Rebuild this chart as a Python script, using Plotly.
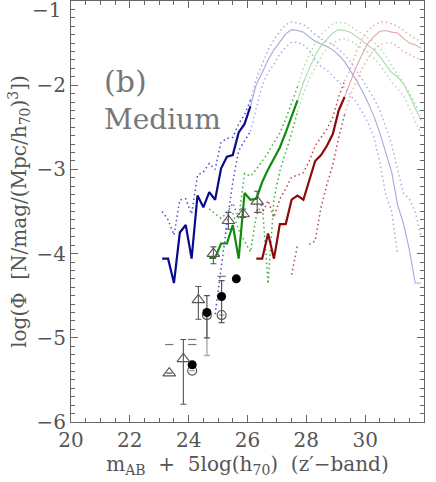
import plotly.graph_objects as go

# magnitude grid shared by the model curves
mag = [23.1, 23.3, 23.5, 23.7, 23.9, 24.1, 24.3, 24.5, 24.7, 24.9,
       25.1, 25.3, 25.5, 25.7, 25.9, 26.1, 26.3, 26.5, 26.7, 26.9,
       27.1, 27.3, 27.5, 27.7, 27.9, 28.1, 28.3, 28.5, 28.7, 28.9,
       29.1, 29.3, 29.5, 29.7, 29.9, 30.1, 30.3, 30.5, 30.7, 30.9,
       31.1, 31.3, 31.5, 31.7, 31.9]
N = None

blue_mid = [-4.06, -4.06, -4.35, -3.75, -3.66, -4.06, -3.31, -3.45, -3.27, -3.36,
            -2.99, -2.85, -2.83, -2.56, -2.46, -2.25, -1.99, -1.85, -1.70, -1.58,
            -1.48, -1.39, -1.34, -1.35, -1.37, -1.42, -1.48, -1.51, -1.54, -1.58,
            -1.64, -1.72, -1.83, -1.94, -2.07, -2.21, -2.37, -2.57, -2.80, -3.03,
            -3.42, -3.64, -3.95, -4.35, -4.35]
blue_hi = [-3.50, -3.60, -3.78, -3.36, -3.35, -3.53, -3.07, -3.03, -2.93, -3.00,
           -2.68, -2.63, -2.62, -2.46, -2.35, -2.18, -1.92, -1.75, -1.58, -1.46,
           -1.36, -1.28, -1.25, -1.26, -1.28, -1.33, -1.40, -1.45, -1.48, -1.52,
           -1.57, -1.64, -1.72, -1.82, -1.93, -2.05, -2.16, -2.30, -2.50, -2.70,
           -3.00, -3.28, -3.35, -3.50, -3.80]
blue_lo = [N, N, N, N, N, N, N, N, N, -4.72,
           -4.15, -3.65, -3.15, -2.78, -2.66, -2.55, -2.27, -2.00, -1.85, -1.75,
           -1.63, -1.55, -1.49, -1.49, -1.52, -1.58, -1.70, -1.78, -1.82, -1.89,
           -1.95, -2.03, -2.12, -2.20, -2.32, -2.45, -2.62, -2.92, -3.30, -3.50,
           -4.00, N, N, N, N]

green_mid = [N, N, N, N, N, N, N, N, -4.05, -4.05,
             -3.88, -3.88, -3.66, -4.06, -3.28, -3.36, -3.35, -3.15, -3.00, -2.87,
             -2.74, -2.56, -2.37, -2.18, -1.97, -1.80, -1.65, -1.53, -1.46, -1.38,
             -1.34, -1.35, -1.37, -1.42, -1.48, -1.52, -1.58, -1.66, -1.75, -1.85,
             -1.90, -1.98, -2.12, -2.26, -2.42]
green_hi = [N, N, N, N, N, N, N, N, -3.47, -3.52,
            -3.58, -3.52, -3.40, -3.58, -3.05, -3.08, -3.00, -2.90, -2.80, -2.68,
            -2.57, -2.40, -2.20, -2.02, -1.80, -1.64, -1.50, -1.40, -1.33, -1.27,
            -1.25, -1.26, -1.30, -1.35, -1.40, -1.44, -1.49, -1.56, -1.65, -1.77,
            -1.87, -1.97, -2.09, -2.22, -2.35]
green_lo = [N, N, N, N, N, N, N, N, N, N,
            N, N, -3.52, -3.72, -3.85, -3.98, -3.55, -3.40, -4.36, -3.35,
            -3.02, -2.80, -2.57, -2.32, -2.10, -1.92, -1.78, -1.66, -1.57, -1.50,
            -1.46, -1.45, -1.47, -1.52, -1.57, -1.61, -1.68, -1.76, -1.86, -1.96,
            -2.04, -2.12, -2.27, -2.42, -2.58]

red_mid = [N, N, N, N, N, N, N, N, N, N,
           N, N, N, N, N, N, -4.06, -4.06, -3.76, -4.06,
           -3.65, -3.65, -3.36, -3.31, -3.36, -3.13, -2.90, -2.83, -2.72, -2.58,
           -2.30, -2.14, -1.95, -1.78, -1.63, -1.50, -1.42, -1.36, -1.35, -1.37,
           -1.38, -1.44, -1.50, -1.52, -1.56]
red_hi = [N, N, N, N, N, N, N, N, N, N,
          N, N, N, N, N, N, -3.48, -3.52, -3.37, -3.57,
          -3.35, -3.23, -3.09, -3.07, -3.04, -2.90, -2.72, -2.62, -2.52, -2.38,
          -2.14, -1.95, -1.80, -1.60, -1.45, -1.35, -1.29, -1.25, -1.25, -1.27,
          -1.30, -1.35, -1.40, -1.45, -1.48]
red_lo = [N, N, N, N, N, N, N, N, N, N,
          N, N, N, N, N, N, N, N, N, N,
          N, N, -4.25, -3.90, N, -3.89, -3.85, -3.45, -3.18, -2.95,
          -2.62, -2.35, -2.12, -1.95, -1.80, -1.68, -1.58, -1.52, -1.50, -1.50,
          -1.54, -1.60, -1.64, -1.67, -1.70]

# observed points
tri_x = [23.34, 23.82, 24.33, 24.84, 25.35, 25.85, 26.33]
tri_y = [-5.42, -5.25, -4.55, -4.00, -3.61, -3.53, -3.38]
tri_up = [0.0, 0.23, 0.16, 0.08, 0.10, 0.06, 0.12]
tri_dn = [0.0, 0.54, 0.23, 0.12, 0.10, 0.04, 0.13]

fill_x = [24.12, 24.62, 25.12, 25.62]
fill_y = [-5.32, -4.70, -4.51, -4.30]
fill_up = [0.0, 0.20, 0.19, 0.0]
fill_dn = [0.0, 0.30, 0.31, 0.0]

open_x = [24.12, 24.62, 25.12]
open_y = [-5.39, -4.73, -4.73]
open_up = [0.0, 0.0, 0.0]
open_dn = [0.0, 0.48, 0.0]

dash_x = [23.34, 24.12, 24.12, 25.12]
dash_y = [-5.08, -5.02, -5.08, -4.27]

# where the measured part of each curve ends
cut = {"blue": 26.1, "green": 27.7, "red": 29.3}
colors = {
    "blue": ("#0a0a8c", "#a6a6e0", "#4a4ad0", "#a8a8e4"),
    "green": ("#0e8c0e", "#a8dca8", "#3caa3c", "#a8dca8"),
    "red": ("#8c0a0a", "#e0a8a8", "#b84848", "#e2a8a8"),
}
curves = {
    "blue": (blue_mid, blue_hi, blue_lo),
    "green": (green_mid, green_hi, green_lo),
    "red": (red_mid, red_hi, red_lo),
}
DOT = "1.5px,3px"


def split(ys, c):
    a = [y if x <= c + 1e-6 else None for x, y in zip(mag, ys)]
    b = [y if x >= c - 1e-6 else None for x, y in zip(mag, ys)]
    return a, b


fig = go.Figure()

for name, (mid, hi, lo) in curves.items():
    dark, light, ddot, ldot = colors[name]
    c = cut[name]
    for band in (hi, lo):
        a, b = split(band, c)
        fig.add_trace(go.Scatter(x=mag, y=b, mode="lines",
                                 line=dict(color=ldot, width=1.4, dash=DOT)))
        fig.add_trace(go.Scatter(x=mag, y=a, mode="lines",
                                 line=dict(color=ddot, width=1.5, dash=DOT)))
    a, b = split(mid, c)
    fig.add_trace(go.Scatter(x=mag, y=b, mode="lines",
                             line=dict(color=light, width=1.1)))
    fig.add_trace(go.Scatter(x=mag, y=a, mode="lines",
                             line=dict(color=dark, width=2.2)))

fig.add_trace(go.Scatter(
    x=open_x, y=open_y, mode="markers",
    marker=dict(symbol="circle-open", size=9, color="#555",
                line=dict(width=1.1, color="#555")),
    error_y=dict(type="data", symmetric=False, array=open_up,
                 arrayminus=open_dn, color="#aaaaaa", thickness=1.4, width=3)))
fig.add_trace(go.Scatter(
    x=fill_x, y=fill_y, mode="markers",
    marker=dict(symbol="circle", size=9, color="black"),
    error_y=dict(type="data", symmetric=False, array=fill_up,
                 arrayminus=fill_dn, color="#555", thickness=1.2, width=3)))
fig.add_trace(go.Scatter(
    x=tri_x, y=tri_y, mode="markers",
    marker=dict(symbol="triangle-up-open", size=11, color="#555",
                line=dict(width=1.1, color="#555")),
    error_y=dict(type="data", symmetric=False, array=tri_up,
                 arrayminus=tri_dn, color="#555", thickness=1.1, width=3)))
fig.add_trace(go.Scatter(
    x=dash_x, y=dash_y, mode="markers",
    marker=dict(symbol="line-ew", size=6, line=dict(width=1.2, color="#777"))))

tickfont = dict(family="DejaVu Serif", size=20, color="#555")
axis = dict(showline=True, linecolor="#666", linewidth=1, mirror="allticks",
            ticks="inside", ticklen=7, tickcolor="#666", showgrid=False,
            zeroline=False, tickfont=tickfont, automargin=False)
sp = "\u00a0\u00a0"

fig.update_layout(
    width=436, height=482,
    margin=dict(l=71, r=12, t=1, b=60),
    plot_bgcolor="white", paper_bgcolor="white",
    showlegend=False,
    xaxis=dict(axis, range=[20, 32], tickvals=[20, 22, 24, 26, 28, 30, 32],
               minor=dict(dtick=0.5, ticklen=4, ticks="inside", tickcolor="#666"),
               title=dict(text="m<sub>AB</sub>" + sp + "+" + sp + "5log(h<sub>70</sub>)"
                               + sp + "(z\u2032\u2212band)",
                          font=dict(family="DejaVu Serif", size=20, color="#555"),
                          standoff=5)),
    yaxis=dict(axis, range=[-6, -1], tickvals=[-6, -5, -4, -3, -2],
               minor=dict(dtick=0.1, ticklen=4, ticks="inside", tickcolor="#666"),
               title=dict(text="log(\u03a6" + sp + "[N/mag/(Mpc/h<sub>70</sub>)<sup>3</sup>])",
                          font=dict(family="DejaVu Serif", size=20, color="#555"),
                          standoff=4)),
    annotations=[
        dict(x=0, xref="paper", y=-1, yref="y", text="\u22121", showarrow=False,
             xanchor="right", yanchor="middle", xshift=-8, yshift=-9,
             font=tickfont),
        dict(x=21.05, y=-1.72, text="(b)", showarrow=False, xanchor="left",
             yanchor="top", font=dict(family="DejaVu Serif", size=30, color="#777")),
        dict(x=21.05, y=-2.19, text="Medium", showarrow=False, xanchor="left",
             yanchor="top", font=dict(family="DejaVu Serif", size=28, color="#777")),
    ],
)

# the page body has a default 8px margin; drop it so the figure sits at 0,0
fig.write_html("out.html", post_script="document.body.style.margin='0';",
               config={"displayModeBar": False})
